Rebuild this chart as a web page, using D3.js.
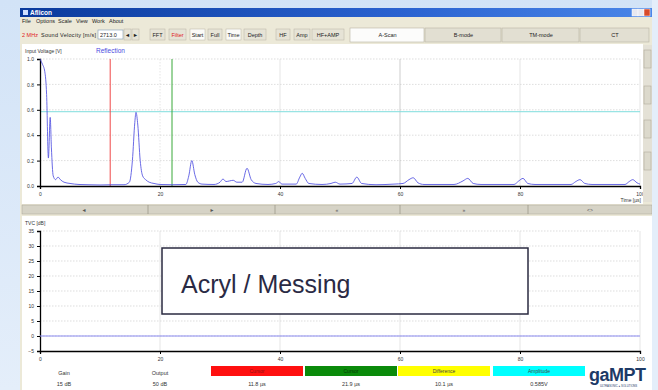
<!DOCTYPE html>
<html><head><meta charset="utf-8">
<script src="https://cdn.jsdelivr.net/npm/d3@7"></script>
<style>
html,body{margin:0;padding:0;background:#dbe8f8;}
svg{display:block;font-family:"Liberation Sans",Arial,sans-serif;}
</style></head>
<body><svg id="c" width="658" height="390"></svg>
<script>
// ---------- data ----------
const signalTime = [0,0.4,0.8,1.1,1.4,1.7,1.9,2.2,2.6,3.0,3.4,4.0,5.0,6.5,8,10,12,14,14.9,15.4,15.8,16.0,16.3,16.7,17.1,17.6,18.2,19,20,22,24.3,24.8,25.3,25.8,26.3,27,29,30,30.5,31,31.6,32.2,32.8,33.7,34.5,35.2,36,38,39.3,39.8,40.3,42.7,43.3,43.7,44.2,44.8,47,48.5,49.2,50,52,52.8,53.6,56,59,60.5,61.5,62.2,63,64,69,70.5,71.3,72.2,73.5,79,79.8,80.5,81.3,82.5,88.5,89.3,90,90.8,92,97.5,98.2,98.8,99.5,100];
const signalVolt = [1.0,0.96,0.9,0.72,0.22,0.54,0.3,0.08,0.05,0.07,0.05,0.03,0.02,0.012,0.01,0.008,0.01,0.01,0.03,0.2,0.5,0.58,0.48,0.2,0.08,0.05,0.03,0.02,0.012,0.01,0.012,0.08,0.2,0.09,0.03,0.015,0.012,0.03,0.055,0.035,0.04,0.045,0.03,0.03,0.14,0.05,0.02,0.012,0.02,0.035,0.015,0.015,0.07,0.10,0.06,0.02,0.012,0.02,0.03,0.015,0.02,0.07,0.02,0.01,0.015,0.02,0.05,0.065,0.025,0.012,0.012,0.04,0.06,0.02,0.012,0.012,0.04,0.06,0.02,0.012,0.012,0.035,0.05,0.02,0.012,0.012,0.035,0.05,0.025,0.015];
const xTicks = [0,20,40,60,80,100];
const yTopTicks = [0,0.2,0.4,0.6,0.8,1.0];
const yBotTicks = [-5,0,5,10,15,20,25,30,35];
const tvcTime = [0,100];
const tvcGain = [0,0];
const cursorRed = 11.7, cursorGreen = 22.0, ampLevel = 0.585;
const menuItems = ["File","Options","Scale","View","Work","About"];
const tabs = ["A-Scan","B-mode","TM-mode","CT"];
const legendNames = ["Cursor","Cursor","Difference","Amplitude"];
const legendValues = ["11.8 µs","21.9 µs","10.1 µs","0.585V"];
const legendColors = ["#ff1010","#0a8a0a","#ffff00","#00ffff"];

// ---------- drawing ----------
const svg = d3.select("#c");
const defs = svg.append("defs");
const bg = defs.append("linearGradient").attr("id","bg").attr("x1",0).attr("y1",0).attr("x2",0).attr("y2",1);
bg.append("stop").attr("offset",0).attr("stop-color","#d2e3f7");
bg.append("stop").attr("offset",1).attr("stop-color","#e4eefa");
const tbg = defs.append("linearGradient").attr("id","tb");
tbg.append("stop").attr("offset",0).attr("stop-color","#0a3a9c");
tbg.append("stop").attr("offset",0.6).attr("stop-color","#2a62d0");
tbg.append("stop").attr("offset",1).attr("stop-color","#4a86e8");
svg.append("rect").attr("width",658).attr("height",390).attr("fill","url(#bg)");

const win = svg.append("g");
win.append("rect").attr("x",20).attr("y",8).attr("width",632).attr("height",382).attr("fill","#ece9d8");
// title bar
win.append("rect").attr("x",20).attr("y",8).attr("width",632).attr("height",9).attr("fill","url(#tb)");
win.append("rect").attr("x",23).attr("y",10).attr("width",5).attr("height",5).attr("fill","#cfe0ff");
win.append("text").attr("x",30).attr("y",15).attr("fill","#fff").attr("font-size",6.5).attr("font-weight","bold").text("Aflicon");
[632,638,644].forEach((xx,i)=>{
  win.append("rect").attr("x",xx).attr("y",9).attr("width",6).attr("height",7).attr("fill",i==2?"#d84a2a":"#e8e8f0").attr("stroke","#fff").attr("stroke-width",0.5);
});
// menu
const mx=[22,36,58,76,92,109];
menuItems.forEach((m,i)=>win.append("text").attr("x",mx[i]).attr("y",23).attr("font-size",5.5).attr("fill","#222").text(m));
// toolbar
const tbar = win.append("g");
tbar.append("text").attr("x",22).attr("y",37).attr("font-size",5.5).attr("fill","#e02020").text("2 MHz");
tbar.append("text").attr("x",41).attr("y",37).attr("font-size",5.5).attr("fill","#222").attr("textLength",55).text("Sound Velocity [m/s]");
tbar.append("rect").attr("x",98).attr("y",30).attr("width",25).attr("height",9).attr("fill","#fff").attr("stroke","#7f9db9").attr("stroke-width",0.6);
tbar.append("text").attr("x",100).attr("y",37).attr("font-size",5.5).attr("fill","#222").text("2713.0");
const btns = [[124,7,"◄","#222"],[132,7,"►","#222"],[150,15,"FFT","#222"],[169,17,"Filter","#e02020"],[190,15,"Start","#222"],[208,14,"Full","#222"],[226,15,"Time","#222"],[244,22,"Depth","#222"],[276,14,"HF","#222"],[294,16,"Amp","#222"],[312,32,"HF+AMP","#222"]];
btns.forEach(b=>{
  tbar.append("rect").attr("x",b[0]).attr("y",29).attr("width",b[1]).attr("height",11).attr("fill",(b[2]=="Start"||b[2]=="Time")?"#fbfbf8":"#e6e3d6").attr("stroke","#b8b4a4").attr("stroke-width",0.5);
  tbar.append("text").attr("x",b[0]+b[1]/2).attr("y",37).attr("text-anchor","middle").attr("font-size",5.5).attr("fill",b[3]).text(b[2]);
});
const tabX=[[350,425],[425,502],[502,580],[580,650]];
tabs.forEach((t,i)=>{
  tbar.append("rect").attr("x",tabX[i][0]).attr("y",28).attr("width",tabX[i][1]-tabX[i][0]-1).attr("height",14).attr("fill",i==0?"#fcfcfb":"#e2dfd2").attr("stroke","#b8b4a4").attr("stroke-width",0.6);
  tbar.append("text").attr("x",(tabX[i][0]+tabX[i][1])/2).attr("y",37).attr("text-anchor","middle").attr("font-size",5.5).attr("fill","#222").text(t);
});

// ---------- top chart ----------
win.append("rect").attr("x",22).attr("y",44).attr("width",621).attr("height",160).attr("fill","#fff");
const x = d3.scaleLinear().domain([0,100]).range([40,640]);
const yT = d3.scaleLinear().domain([0,1]).range([186,59]);
const topG = svg.append("g");
// grid
topG.selectAll(".hg").data(yTopTicks.filter(d=>d>0)).join("line")
  .attr("x1",40).attr("x2",640).attr("y1",d=>yT(d)).attr("y2",d=>yT(d))
  .attr("stroke","#c8c8c8").attr("stroke-width",0.6).attr("stroke-dasharray","1.5,1.5");
topG.selectAll(".vg").data(xTicks.filter(d=>d>0&&d<100)).join("line")
  .attr("x1",d=>x(d)).attr("x2",d=>x(d)).attr("y1",59).attr("y2",186)
  .attr("stroke",d=>d==60?"#b8b8b8":"#dadada").attr("stroke-width",0.7).attr("stroke-dasharray",d=>d==20?"1.5,1.5":null);
topG.append("line").attr("x1",640).attr("x2",640).attr("y1",59).attr("y2",186).attr("stroke","#dadada").attr("stroke-width",0.7);
// amplitude & cursors
topG.append("line").attr("x1",x(0)).attr("x2",x(100)).attr("y1",yT(ampLevel)).attr("y2",yT(ampLevel)).attr("stroke","#7fdede").attr("stroke-width",1);
topG.append("line").attr("x1",x(cursorRed)).attr("x2",x(cursorRed)).attr("y1",59).attr("y2",186).attr("stroke","#f04848").attr("stroke-width",1);
topG.append("line").attr("x1",x(cursorGreen)).attr("x2",x(cursorGreen)).attr("y1",59).attr("y2",186).attr("stroke","#38a838").attr("stroke-width",1);
// axes
const ax = topG.append("g").attr("transform","translate(0,186)").call(d3.axisBottom(x).tickValues(xTicks).tickSize(3).tickFormat(d3.format("d")));
const ay = topG.append("g").attr("transform","translate(40,0)").call(d3.axisLeft(yT).tickValues(yTopTicks).tickSize(3).tickFormat(d3.format(".1f")));
[ax,ay].forEach(a=>{a.select(".domain").attr("stroke","#000").attr("stroke-width",1.3);a.selectAll("text").attr("font-size",5).attr("fill","#333");a.selectAll("line").attr("stroke","#000");});
// signal
const line = d3.line().x(i=>x(signalTime[i])).y(i=>yT(signalVolt[i])).curve(d3.curveMonotoneX);
topG.append("path").attr("d",line(d3.range(signalTime.length))).attr("fill","none").attr("stroke","#5050e0").attr("stroke-width",1).attr("stroke-opacity",0.85);
topG.append("text").attr("x",25).attr("y",53).attr("font-size",5).attr("fill","#333").text("Input Voltage [V]");
topG.append("text").attr("x",96).attr("y",53).attr("font-size",6.5).attr("fill","#4a4ae0").text("Reflection");
topG.append("text").attr("x",641).attr("y",202).attr("text-anchor","end").attr("font-size",5).attr("fill","#333").text("Time [µs]");
// right scrollbar
topG.append("rect").attr("x",643).attr("y",45).attr("width",9).attr("height",157).attr("fill","#e4e1d6");
[50,86,120,152].forEach(yy=>topG.append("rect").attr("x",644).attr("y",yy).attr("width",7).attr("height",18).attr("fill","#dcd9cc").attr("stroke","#a8a494").attr("stroke-width",0.5));
// bottom strip
topG.append("rect").attr("x",22).attr("y",205).attr("width",630).attr("height",9).attr("fill","#d6d3c6").attr("stroke","#a8a494").attr("stroke-width",0.5);
[148,275,400,528].forEach(xx=>topG.append("line").attr("x1",xx).attr("x2",xx).attr("y1",205).attr("y2",214).attr("stroke","#8a8676").attr("stroke-width",0.6));
[["◄",84],["►",212],["«",337],["»",464],["<>",590]].forEach(s=>topG.append("text").attr("x",s[1]).attr("y",212).attr("text-anchor","middle").attr("font-size",5).attr("fill","#555").text(s[0]));

// ---------- bottom chart ----------
win.append("rect").attr("x",22).attr("y",216).attr("width",630).attr("height",174).attr("fill","#fff");
const yB = d3.scaleLinear().domain([-5,35]).range([351,231]);
const bot = svg.append("g");
bot.selectAll(".hg2").data(yBotTicks.filter(d=>d>-5)).join("line")
  .attr("x1",40).attr("x2",640).attr("y1",d=>yB(d)).attr("y2",d=>yB(d))
  .attr("stroke","#c8c8c8").attr("stroke-width",0.6).attr("stroke-dasharray","1.5,1.5");
bot.selectAll(".vg2").data(xTicks.filter(d=>d>0)).join("line")
  .attr("x1",d=>x(d)).attr("x2",d=>x(d)).attr("y1",231).attr("y2",351)
  .attr("stroke","#dadada").attr("stroke-width",0.7);
const bx = bot.append("g").attr("transform","translate(0,351)").call(d3.axisBottom(x).tickValues(xTicks).tickSize(3).tickFormat(d3.format("d")));
const by = bot.append("g").attr("transform","translate(40,0)").call(d3.axisLeft(yB).tickValues(yBotTicks).tickSize(3).tickFormat(d3.format("d")));
[bx,by].forEach(a=>{a.select(".domain").attr("stroke","#000").attr("stroke-width",1.3);a.selectAll("text").attr("font-size",5).attr("fill","#333");a.selectAll("line").attr("stroke","#000");});
const tvcLine = d3.line().x((d,i)=>x(tvcTime[i])).y(d=>yB(d));
bot.append("path").attr("d",tvcLine(tvcGain)).attr("fill","none").attr("stroke","#8a8af0").attr("stroke-width",1);
bot.append("text").attr("x",25).attr("y",225).attr("font-size",5).attr("fill","#333").text("TVC [dB]");
// annotation box
bot.append("rect").attr("x",162).attr("y",248).attr("width",366).attr("height",66).attr("fill","#fff").attr("stroke","#2a2a40").attr("stroke-width",1.5);
bot.append("text").attr("x",181).attr("y",293).attr("font-size",25).attr("fill","#2a2a44").text("Acryl / Messing");
// legend
bot.append("text").attr("x",64).attr("y",375).attr("text-anchor","middle").attr("font-size",5.5).attr("fill","#333").text("Gain");
bot.append("text").attr("x",64).attr("y",386).attr("text-anchor","middle").attr("font-size",5.5).attr("fill","#333").text("15 dB");
bot.append("text").attr("x",160).attr("y",375).attr("text-anchor","middle").attr("font-size",5.5).attr("fill","#333").text("Output");
bot.append("text").attr("x",160).attr("y",386).attr("text-anchor","middle").attr("font-size",5.5).attr("fill","#333").text("50 dB");
const lx = [211,305,398,493];
legendNames.forEach((n,i)=>{
  bot.append("rect").attr("x",lx[i]).attr("y",366).attr("width",92).attr("height",10).attr("fill",legendColors[i]);
  bot.append("text").attr("x",lx[i]+46).attr("y",373).attr("text-anchor","middle").attr("font-size",5).attr("fill",i==0?"#901010":(i==1?"#063806":"#444")).text(n);
  bot.append("text").attr("x",lx[i]+46).attr("y",386).attr("text-anchor","middle").attr("font-size",5.5).attr("fill","#333").text(legendValues[i]);
});
// logo
bot.append("text").attr("x",589).attr("y",381).attr("font-size",18).attr("font-weight","bold").attr("fill","#1d3a66").attr("letter-spacing",-0.5).text("gaMPT");
bot.append("text").attr("x",600).attr("y",387).attr("font-size",2.8).attr("fill","#1d3a66").text("ULTRASONIC ● SOLUTIONS");
// right light background strip
svg.append("rect").attr("x",652).attr("y",0).attr("width",6).attr("height",390).attr("fill","#e4eefa");
</script></body></html>
